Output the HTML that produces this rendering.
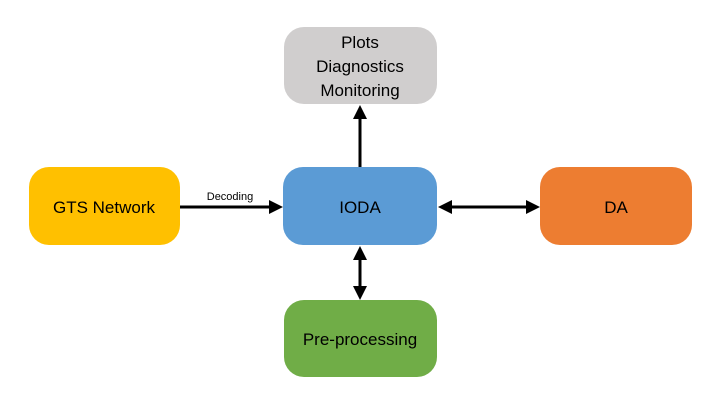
<!DOCTYPE html>
<html><head><style>
body{margin:0;background:#fff;}
</style></head><body>
<svg width="720" height="405" xmlns="http://www.w3.org/2000/svg" font-family="Liberation Sans, sans-serif">
<rect width="720" height="405" fill="#fff"/>
<rect x="284" y="27" width="153" height="77" rx="20" fill="#D0CECE"/>
<rect x="29" y="167" width="151" height="78" rx="20" fill="#FFC000"/>
<rect x="283" y="167" width="154" height="78" rx="20" fill="#5B9BD5"/>
<rect x="540" y="167" width="152" height="78" rx="20" fill="#ED7D31"/>
<rect x="284" y="300" width="153" height="77" rx="20" fill="#70AD47"/>
<g font-size="17" fill="#000" text-anchor="middle">
<text x="360" y="48">Plots</text>
<text x="360" y="72">Diagnostics</text>
<text x="360" y="96">Monitoring</text>
<text x="104" y="213">GTS Network</text>
<text x="360" y="213">IODA</text>
<text x="616" y="213">DA</text>
<text x="360" y="345">Pre-processing</text>
</g>
<text x="230" y="200" font-size="11" text-anchor="middle">Decoding</text>
<g stroke="#000" stroke-width="3">
<line x1="180" y1="207" x2="270" y2="207"/>
<line x1="452" y1="207" x2="526" y2="207"/>
<line x1="360" y1="167" x2="360" y2="118"/>
<line x1="360" y1="260" x2="360" y2="286"/>
</g>
<g fill="#000">
<polygon points="283,207 269,200 269,214"/>
<polygon points="438,207 452,200 452,214"/>
<polygon points="540,207 526,200 526,214"/>
<polygon points="360,105 353,119 367,119"/>
<polygon points="360,246 353,260 367,260"/>
<polygon points="360,300 353,286 367,286"/>
</g>
</svg>
</body></html>
